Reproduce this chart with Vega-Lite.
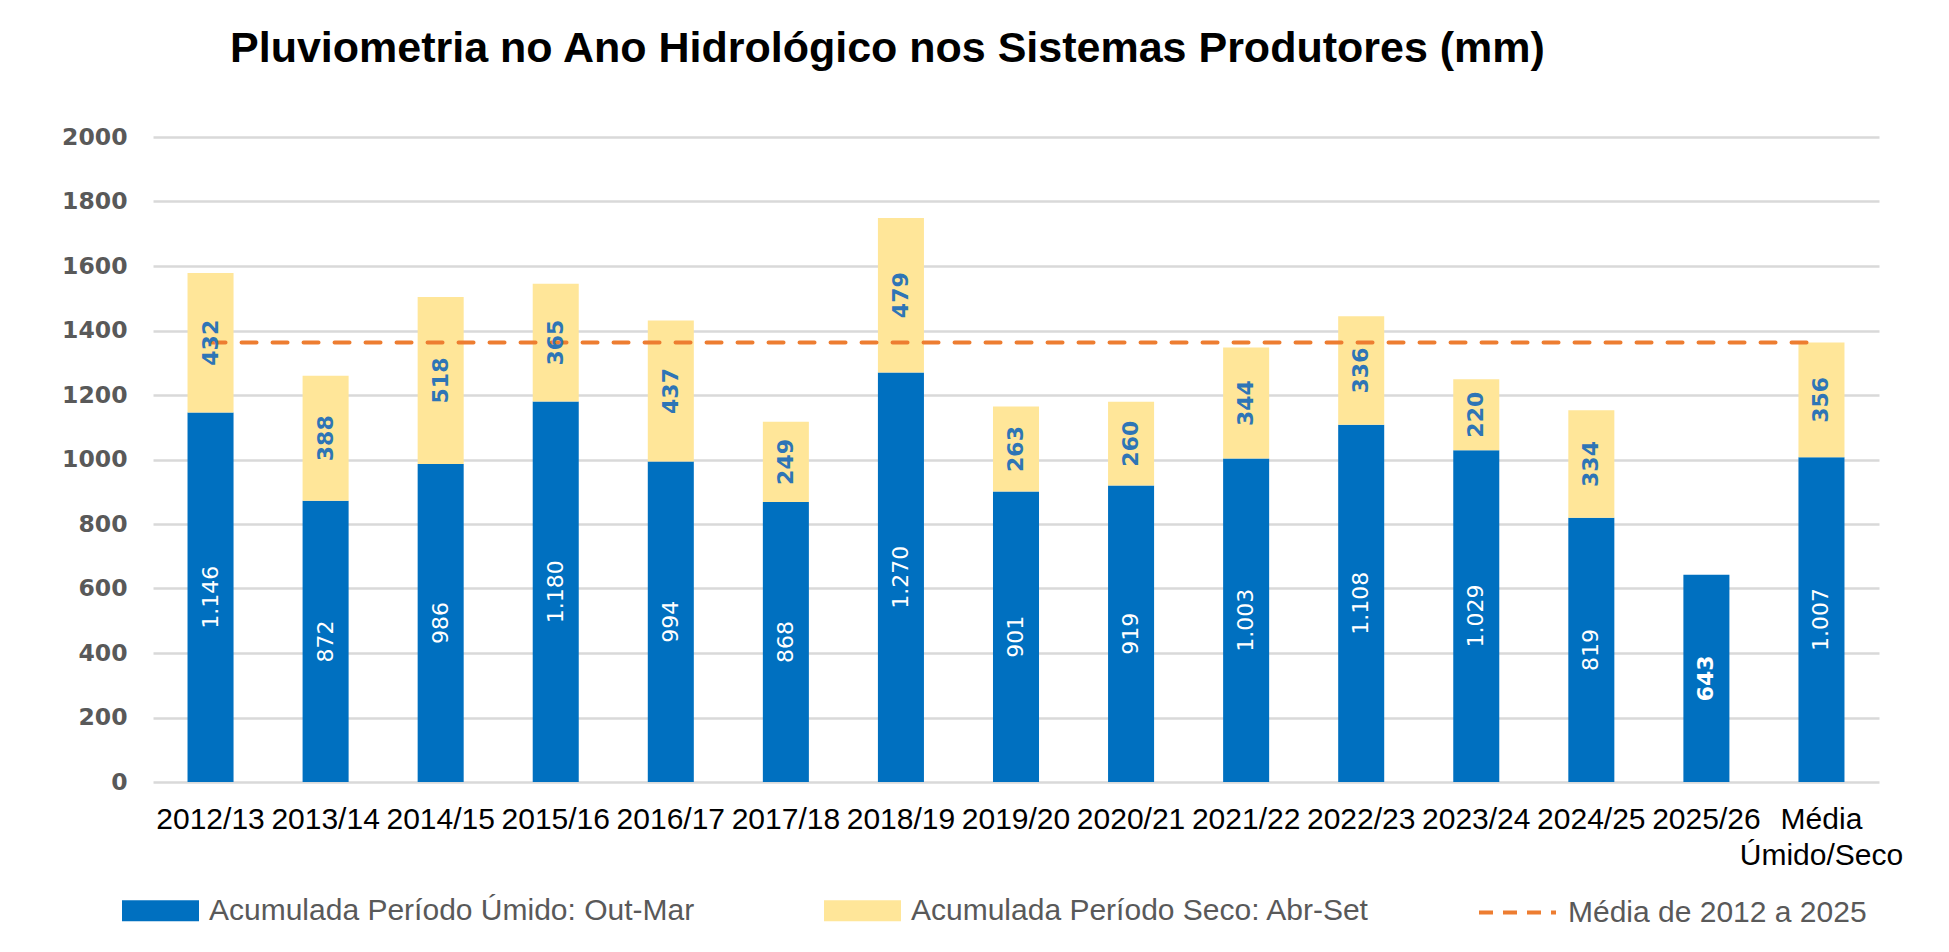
{
  "$schema": "https://vega.github.io/schema/vega-lite/v6.json",
  "autosize": {"type": "none"},
  "width": 1726,
  "height": 645,
  "padding": {"left": 153, "top": 137, "right": 70, "bottom": 170},
  "background": "white",
  "config": {
    "locale": {"number": {"decimal": ",", "thousands": ".", "grouping": [3], "currency": ["R$", ""]}},
    "view": {"stroke": null},
    "font": "Liberation Sans"
  },
  "title": {
    "text": "Pluviometria no Ano Hidrológico nos Sistemas Produtores (mm)",
    "anchor": "start",
    "frame": "group",
    "dx": 77,
    "offset": 54,
    "fontSize": 43,
    "fontWeight": "bold",
    "color": "#000000",
    "font": "Liberation Sans"
  },
  "datasets": {
    "barras": [
      {"ano": "2012/13", "serie": "Acumulada Período Úmido: Out-Mar", "valor": 1146},
      {"ano": "2012/13", "serie": "Acumulada Período Seco: Abr-Set", "valor": 432},
      {"ano": "2013/14", "serie": "Acumulada Período Úmido: Out-Mar", "valor": 872},
      {"ano": "2013/14", "serie": "Acumulada Período Seco: Abr-Set", "valor": 388},
      {"ano": "2014/15", "serie": "Acumulada Período Úmido: Out-Mar", "valor": 986},
      {"ano": "2014/15", "serie": "Acumulada Período Seco: Abr-Set", "valor": 518},
      {"ano": "2015/16", "serie": "Acumulada Período Úmido: Out-Mar", "valor": 1180},
      {"ano": "2015/16", "serie": "Acumulada Período Seco: Abr-Set", "valor": 365},
      {"ano": "2016/17", "serie": "Acumulada Período Úmido: Out-Mar", "valor": 994},
      {"ano": "2016/17", "serie": "Acumulada Período Seco: Abr-Set", "valor": 437},
      {"ano": "2017/18", "serie": "Acumulada Período Úmido: Out-Mar", "valor": 868},
      {"ano": "2017/18", "serie": "Acumulada Período Seco: Abr-Set", "valor": 249},
      {"ano": "2018/19", "serie": "Acumulada Período Úmido: Out-Mar", "valor": 1270},
      {"ano": "2018/19", "serie": "Acumulada Período Seco: Abr-Set", "valor": 479},
      {"ano": "2019/20", "serie": "Acumulada Período Úmido: Out-Mar", "valor": 901},
      {"ano": "2019/20", "serie": "Acumulada Período Seco: Abr-Set", "valor": 263},
      {"ano": "2020/21", "serie": "Acumulada Período Úmido: Out-Mar", "valor": 919},
      {"ano": "2020/21", "serie": "Acumulada Período Seco: Abr-Set", "valor": 260},
      {"ano": "2021/22", "serie": "Acumulada Período Úmido: Out-Mar", "valor": 1003},
      {"ano": "2021/22", "serie": "Acumulada Período Seco: Abr-Set", "valor": 344},
      {"ano": "2022/23", "serie": "Acumulada Período Úmido: Out-Mar", "valor": 1108},
      {"ano": "2022/23", "serie": "Acumulada Período Seco: Abr-Set", "valor": 336},
      {"ano": "2023/24", "serie": "Acumulada Período Úmido: Out-Mar", "valor": 1029},
      {"ano": "2023/24", "serie": "Acumulada Período Seco: Abr-Set", "valor": 220},
      {"ano": "2024/25", "serie": "Acumulada Período Úmido: Out-Mar", "valor": 819},
      {"ano": "2024/25", "serie": "Acumulada Período Seco: Abr-Set", "valor": 334},
      {"ano": "2025/26", "serie": "Acumulada Período Úmido: Out-Mar", "valor": 643},
      {"ano": "Média Úmido/Seco", "serie": "Acumulada Período Úmido: Out-Mar", "valor": 1007},
      {"ano": "Média Úmido/Seco", "serie": "Acumulada Período Seco: Abr-Set", "valor": 356}
    ],
    "media": [
      {"ano": "2012/13", "media": 1363},
      {"ano": "Média Úmido/Seco", "media": 1363}
    ]
  },
  "encoding": {
    "x": {
      "field": "ano",
      "type": "nominal",
      "scale": {
        "domain": ["2012/13", "2013/14", "2014/15", "2015/16", "2016/17", "2017/18", "2018/19", "2019/20", "2020/21", "2021/22", "2022/23", "2023/24", "2024/25", "2025/26", "Média Úmido/Seco"],
        "paddingInner": 0.6,
        "paddingOuter": 0.3
      },
      "axis": {
        "title": null,
        "domain": false,
        "ticks": false,
        "labelAngle": 0,
        "labelFontSize": 30,
        "labelColor": "#000000",
        "labelPadding": 22,
        "labelLineHeight": 36,
        "labelOverlap": false,
        "labelLimit": 300,
        "labelExpr": "datum.value == 'Média Úmido/Seco' ? ['Média', 'Úmido/Seco'] : datum.value"
      }
    }
  },
  "layer": [
    {
      "data": {"name": "barras"},
      "transform": [
        {"stack": "valor", "groupby": ["ano"], "sort": [{"field": "serie", "order": "descending"}], "as": ["v0", "v1"]}
      ],
      "mark": {"type": "bar"},
      "encoding": {
        "y": {
          "field": "v0",
          "type": "quantitative",
          "scale": {"domain": [0, 2000], "nice": false},
          "axis": {
            "title": null,
            "values": [0, 200, 400, 600, 800, 1000, 1200, 1400, 1600, 1800, 2000],
            "format": "d",
            "grid": true,
            "gridColor": "#D9D9D9",
            "gridWidth": 2.5,
            "domain": false,
            "ticks": false,
            "labelFont": "DejaVu Sans",
            "labelFontWeight": "bold",
            "labelFontSize": 23.5,
            "labelColor": "#595959",
            "labelPadding": 26
          }
        },
        "y2": {"field": "v1"},
        "color": {
          "field": "serie",
          "type": "nominal",
          "scale": {
            "domain": ["Acumulada Período Úmido: Out-Mar", "Acumulada Período Seco: Abr-Set"],
            "range": ["#0070C0", "#FFE699"]
          },
          "legend": {
            "orient": "none",
            "legendX": -31,
            "legendY": 735,
            "direction": "horizontal",
            "columns": 2,
            "title": null,
            "padding": 0,
            "symbolType": "M-1,-0.273H1V0.273H-1Z",
            "symbolSize": 5929,
            "symbolStrokeWidth": 0,
            "symbolOpacity": 1,
            "labelFontSize": 30,
            "labelColor": "#595959",
            "labelOffset": 10,
            "labelLimit": 700,
            "columnPadding": 129
          }
        }
      }
    },
    {
      "data": {"name": "media"},
      "mark": {"type": "line", "strokeWidth": 4, "strokeDash": [15, 16], "strokeCap": "round"},
      "encoding": {
        "y": {"field": "media", "type": "quantitative"},
        "stroke": {
          "datum": "Média de 2012 a 2025",
          "scale": {"range": ["#ED7D31"]},
          "legend": {
            "orient": "none",
            "legendX": 1324,
            "legendY": 735,
            "title": null,
            "padding": 0,
            "symbolType": "stroke",
            "symbolSize": 5929,
            "symbolStrokeWidth": 4,
            "symbolDash": [14, 10],
            "labelFontSize": 30,
            "labelColor": "#595959",
            "labelOffset": 10,
            "labelLimit": 700
          }
        }
      }
    },
    {
      "data": {"name": "barras"},
      "transform": [
        {"stack": "valor", "groupby": ["ano"], "sort": [{"field": "serie", "order": "descending"}], "as": ["v0", "v1"]},
        {"fold": ["v0", "v1"], "as": ["extremo", "pos"]},
        {"aggregate": [{"op": "mean", "field": "pos", "as": "meio"}], "groupby": ["ano", "serie", "valor"]}
      ],
      "layer": [
        {
          "transform": [{"filter": "datum.serie == 'Acumulada Período Úmido: Out-Mar' && datum.ano != '2025/26'"}],
          "mark": {"type": "text", "angle": 270, "font": "DejaVu Sans", "fontSize": 22, "color": "#FFFFFF", "align": "center", "baseline": "middle"},
          "encoding": {
            "y": {"field": "meio", "type": "quantitative"},
            "text": {"field": "valor", "type": "quantitative", "format": ",d"}
          }
        },
        {
          "transform": [{"filter": "datum.ano == '2025/26'"}],
          "mark": {"type": "text", "angle": 270, "font": "DejaVu Sans", "fontSize": 22, "fontWeight": "bold", "color": "#FFFFFF", "align": "center", "baseline": "middle"},
          "encoding": {
            "y": {"field": "meio", "type": "quantitative"},
            "text": {"field": "valor", "type": "quantitative", "format": ",d"}
          }
        },
        {
          "transform": [{"filter": "datum.serie == 'Acumulada Período Seco: Abr-Set'"}],
          "mark": {"type": "text", "angle": 270, "font": "DejaVu Sans", "fontSize": 22, "fontWeight": "bold", "color": "#2E75B6", "align": "center", "baseline": "middle"},
          "encoding": {
            "y": {"field": "meio", "type": "quantitative"},
            "text": {"field": "valor", "type": "quantitative", "format": ",d"}
          }
        }
      ]
    }
  ]
}
